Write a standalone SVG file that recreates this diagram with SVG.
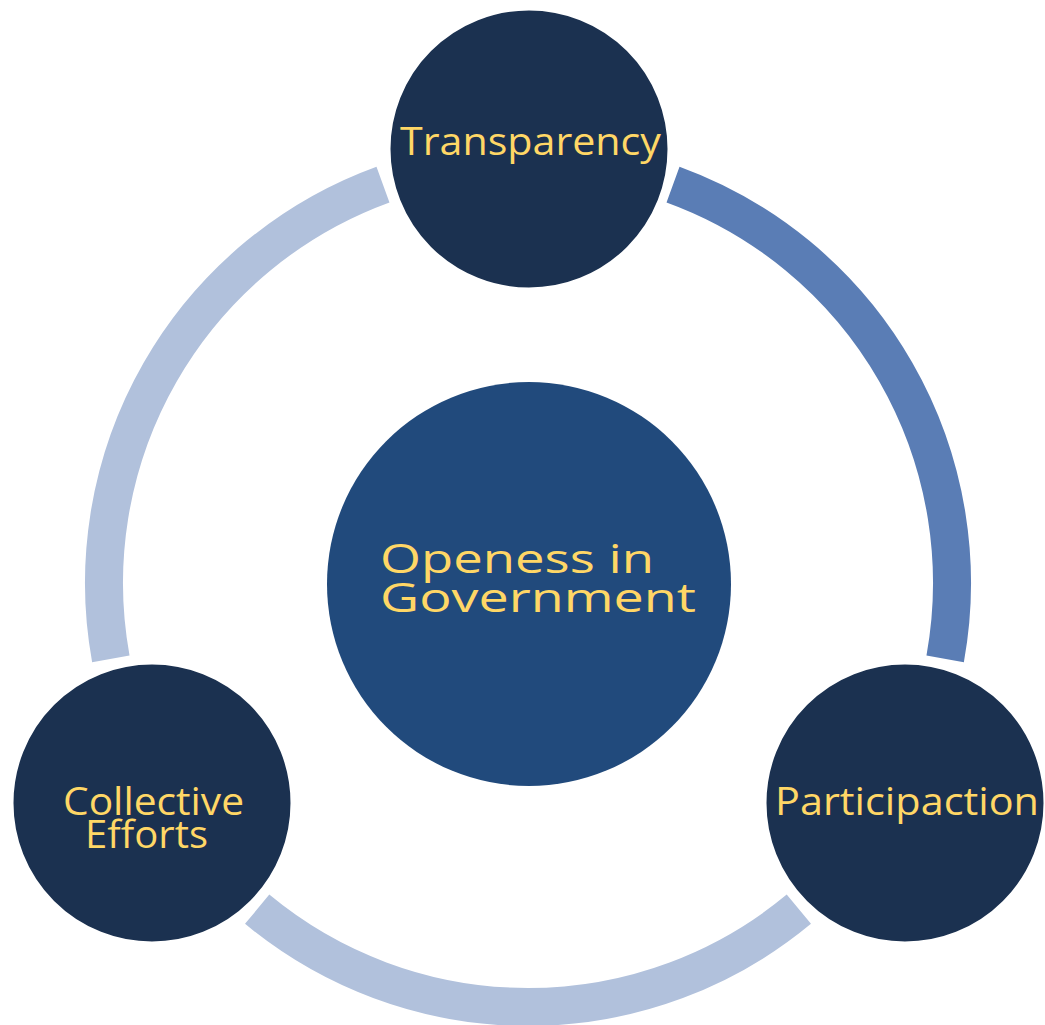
<svg xmlns="http://www.w3.org/2000/svg" width="1045" height="1025" viewBox="0 0 1045 1025">
  <style>
    .ring { fill: none; stroke-width: 38; stroke-linecap: butt; }
    .light { stroke: #B1C1DC; }
    .mid { stroke: #5A7DB5; }
    .node { fill: #1B3150; stroke: #FFFFFF; stroke-width: 3; }
    .core { fill: #214A7C; }
    .lbl { font-family: "Open Sans", "Noto Sans", sans-serif; fill: #FFD766; font-size: 39px; }
    .big { font-size: 41px; }
  </style>
  <rect width="1045" height="1025" fill="#FFFFFF"/>
  <g id="connectors">
    <path class="ring mid" d="M673.02,184.57 A424,424 0 0 1 945.17,658.81"/>
    <path class="ring light" d="M798.84,909.23 A424,424 0 0 1 257.16,909.23"/>
    <path class="ring light" d="M110.83,658.81 A424,424 0 0 1 382.98,184.57"/>
  </g>
  <g id="center">
    <circle class="core" cx="529" cy="584" r="202"/>
    <text class="lbl big"><tspan x="380" y="573" textLength="274" lengthAdjust="spacingAndGlyphs">Openess in</tspan><tspan x="380" y="612" textLength="316" lengthAdjust="spacingAndGlyphs">Government</tspan></text>
  </g>
  <g id="transparency">
    <circle class="node" cx="529" cy="149" r="140"/>
    <text class="lbl" x="400" y="155" textLength="261" lengthAdjust="spacingAndGlyphs">Transparency</text>
  </g>
  <g id="participaction">
    <circle class="node" cx="905" cy="803" r="140"/>
    <text class="lbl" x="775" y="815" textLength="264" lengthAdjust="spacingAndGlyphs">Participaction</text>
  </g>
  <g id="collective-efforts">
    <circle class="node" cx="152" cy="803" r="140"/>
    <text class="lbl"><tspan x="63" y="815" textLength="181" lengthAdjust="spacingAndGlyphs">Collective</tspan><tspan x="85" y="848" textLength="123" lengthAdjust="spacingAndGlyphs">Efforts</tspan></text>
  </g>
</svg>
